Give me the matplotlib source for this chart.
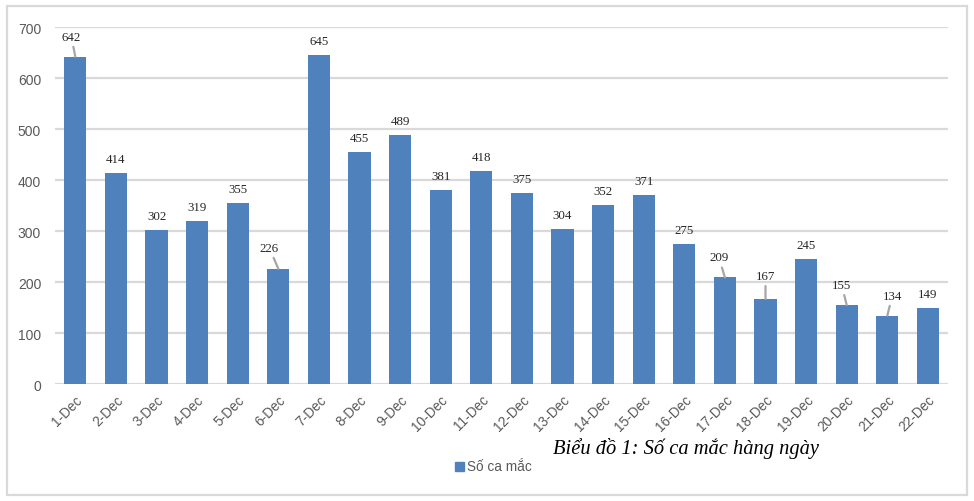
import matplotlib.pyplot as plt
from matplotlib.patches import Rectangle

# data
days = ['1-Dec', '2-Dec', '3-Dec', '4-Dec', '5-Dec', '6-Dec', '7-Dec', '8-Dec', '9-Dec', '10-Dec', '11-Dec',
        '12-Dec', '13-Dec', '14-Dec', '15-Dec', '16-Dec', '17-Dec', '18-Dec', '19-Dec', '20-Dec', '21-Dec', '22-Dec']
cases = [642, 414, 302, 319, 355, 226, 645, 455, 489, 381, 418,
         375, 304, 352, 371, 275, 209, 167, 245, 155, 134, 149]

# label offsets in pixels (dx, dy) from bar top; leader lines where the label was moved
label_off = {0: (-4, 20), 5: (-9, 21), 16: (-6, 20), 17: (0, 23), 19: (-5, 20), 20: (5, 20)}

bar_color = '#4F81BD'
grid_color = '#D9D9D9'
text_color = '#595959'

fig = plt.figure(figsize=(9.74, 5.02), dpi=100)
ax = fig.add_axes([0.0565, 0.233, 0.917, 0.711])

x = list(range(len(days)))
ax.bar(x, cases, width=0.55, color=bar_color, zorder=3)

for i, v in enumerate(cases):
    if i in label_off:
        dx, dy = label_off[i]
        ax.annotate(str(v), xy=(i, v), xytext=(dx, dy), textcoords='offset pixels',
                    ha='center', va='center', fontsize=9.3, family='Liberation Serif', color='#262626',
                    arrowprops=dict(arrowstyle='-', color='#A6A6A6', lw=1.6, shrinkA=1, shrinkB=0),
                    zorder=4)
    else:
        ax.annotate(str(v), xy=(i, v), xytext=(0, 14), textcoords='offset pixels',
                    ha='center', va='center', fontsize=9.3, family='Liberation Serif', color='#262626',
                    zorder=4)

ax.set_xlim(-0.5, len(days) - 0.5)
ax.set_ylim(0, 700)
ax.set_yticks(range(0, 701, 100))
ax.yaxis.grid(True, color=grid_color, lw=1.6, zorder=0)
ax.set_axisbelow(True)
for s in ax.spines.values():
    s.set_visible(False)
ax.tick_params(length=0, colors=text_color)
ax.tick_params(axis='y', pad=10, labelsize=10)
ax.set_xticks(x)
ax.set_xticklabels(days, rotation=45, ha='right', rotation_mode='anchor', family='Liberation Sans')
for lab in ax.get_yticklabels():
    lab.set_family('Liberation Sans')
ax.tick_params(axis='x', pad=6, labelsize=9.8)

# legend
fig.patches.append(Rectangle((455 / 974, 1 - 472 / 502), 9 / 974, 9 / 502, transform=fig.transFigure,
                             color=bar_color))
fig.text(467 / 974, 1 - 467 / 502, 'Số ca mắc', fontsize=9.8, color=text_color,
         family='Liberation Sans', va='center', ha='left')

# caption
fig.text(686 / 974, 1 - 449 / 502, 'Biểu đồ 1: Số ca mắc hàng ngày', fontsize=14.8, style='italic',
         family='Liberation Serif', ha='center', va='center', color='black')

# outer border
fig.patches.append(Rectangle((7 / 974, 1 - 496 / 502), 960 / 974, 489 / 502, transform=fig.transFigure,
                             fill=False, edgecolor=grid_color, lw=1.6))

fig.savefig('out.png', dpi=100)
